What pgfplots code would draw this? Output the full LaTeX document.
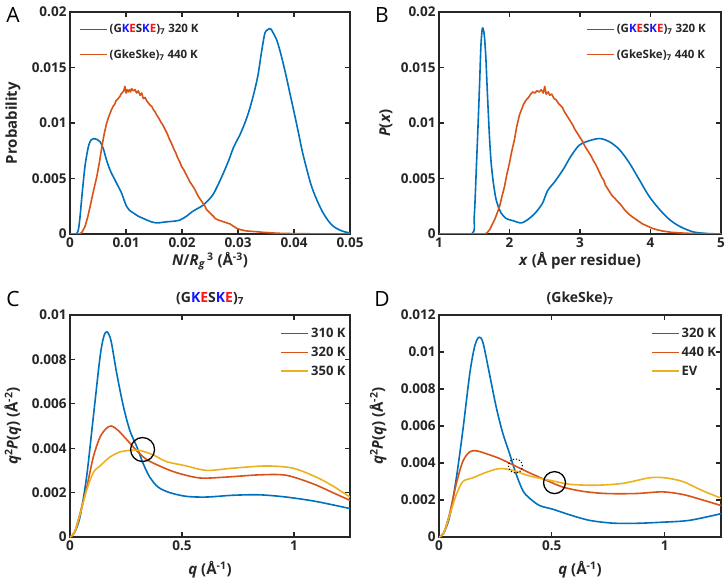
\documentclass[border=0pt]{standalone}
\usepackage{fontspec}
\setmainfont{Open Sans}
\usepackage{pgfplots}
\pgfplotsset{compat=1.18}
\definecolor{axgray}{RGB}{38,38,38}
\definecolor{mblue}{rgb}{0,0.447,0.741}
\definecolor{morange}{rgb}{0.85,0.325,0.098}
\definecolor{myellow}{rgb}{0.929,0.694,0.125}
\definecolor{kblue}{RGB}{20,20,255}
\definecolor{ered}{RGB}{255,20,20}
\newcommand{\GK}{(G\textcolor{kblue}{K}\textcolor{ered}{E}S\textcolor{kblue}{K}\textcolor{ered}{E})\textsubscript{7}}
\newcommand{\Gk}{(GkeSke)\textsubscript{7}}
\pgfplotsset{
  mystyle/.style={
    scale only axis,
    axis line style={color=axgray, line width=1.3pt},
    tick style={color=axgray, line width=1.1pt},
    major tick length=5pt,
    tick align=inside,
    ticklabel style={font=\fontsize{13.5}{15}\selectfont\bfseries, color=axgray},
    label style={font=\fontsize{15}{17}\selectfont\bfseries, color=axgray},
    title style={font=\fontsize{14}{16}\selectfont\bfseries, color=axgray},
    scaled ticks=false,
    /pgf/number format/assume math mode=true,
    /pgf/number format/fixed,
    /pgf/number format/precision=3,
    every axis plot/.append style={line width=1.6pt, line join=round},
    legend cell align=left,
    legend style={draw=none, fill=none, font=\fontsize{11.5}{13}\selectfont\bfseries, text=axgray},
    legend image code/.code={\draw[#1, line width=1.8pt] (0pt,0pt) -- (27pt,0pt);},
  }
}
\begin{document}
\begin{tikzpicture}
% ---------------- A ----------------
\begin{axis}[mystyle, at={(70pt,347pt)}, anchor=south west, width=280pt, height=222pt,
  xmin=0, xmax=0.05, ymin=0, ymax=0.02,
  xtick={0,0.01,0.02,0.03,0.04,0.05}, ytick={0,0.005,0.01,0.015,0.02},
  xlabel={\textit{N}/\textit{R}\textsubscript{\textit{g}}\textsuperscript{\,3} (Å\textsuperscript{-3})},
  ylabel={Probability},
  xlabel style={at={(axis description cs:0.5,-0.122)}, anchor=center},
  ylabel style={at={(axis description cs:-0.204,0.5)}, anchor=center},
  legend style={at={(axis description cs:0.02,0.962)}, anchor=north west, row sep=11pt},
]
\addplot[mblue, smooth] coordinates {
(0,0) (0.0011,0) (0.0015,0.0004) (0.0018,0.0016) (0.0022,0.0038) (0.0027,0.0062) (0.0033,0.0079) (0.0038,0.0085) (0.0043,0.0086) (0.0049,0.0085) (0.0054,0.0083) (0.0060,0.0076) (0.0065,0.0067) (0.0072,0.0057) (0.0080,0.0049) (0.0087,0.0042) (0.0092,0.0037) (0.0097,0.0030) (0.0101,0.0025) (0.0107,0.0021) (0.0113,0.0019) (0.0122,0.0016) (0.0131,0.0014) (0.0145,0.0011) (0.0155,0.0010) (0.0165,0.00105) (0.0173,0.0011) (0.0185,0.00115) (0.0196,0.00125) (0.0208,0.0016) (0.0218,0.0020) (0.0228,0.0023) (0.0238,0.0026) (0.0248,0.0031) (0.0256,0.0036) (0.0265,0.0045) (0.0274,0.0055) (0.0284,0.0067) (0.0292,0.0078) (0.0304,0.0090) (0.0313,0.0101) (0.0321,0.0113) (0.0329,0.0128) (0.0336,0.0144) (0.0342,0.0164) (0.0348,0.0181) (0.0353,0.0184) (0.0358,0.0185) (0.0363,0.0181) (0.0369,0.0175) (0.0375,0.0165) (0.0381,0.0153) (0.0387,0.0140) (0.0393,0.0126) (0.0400,0.0110) (0.0408,0.0091) (0.0415,0.0074) (0.0423,0.0058) (0.0430,0.0045) (0.0438,0.0034) (0.0445,0.0026) (0.0452,0.0019) (0.0461,0.0012) (0.0470,0.0007) (0.0480,0.0004) (0.0490,0.0002) (0.0500,0.0001)};
\addlegendentry{\GK\ 320 K}
\addplot[morange] coordinates {
(0,0) (0.0018,0) (0.0022,0.0002) (0.0027,0.0007) (0.0032,0.0016) (0.0036,0.0025) (0.0042,0.0039) (0.0048,0.0052) (0.0053,0.0066) (0.0057,0.0079) (0.0061,0.0090) (0.0065,0.0099) (0.0068,0.0104) (0.0071,0.0108) (0.0074,0.0112) (0.0077,0.0115) (0.0080,0.0117) (0.0082,0.0120) (0.0084,0.0121) (0.0086,0.0122) (0.0089,0.0124) (0.0091,0.0126) (0.0093,0.0127) (0.0096,0.0129) (0.0098,0.0133) (0.0100,0.0127) (0.0102,0.0130) (0.0104,0.0128) (0.0106,0.0130) (0.0108,0.0128) (0.0110,0.0131) (0.0113,0.0129) (0.0116,0.0130) (0.0119,0.0127) (0.0122,0.0129) (0.0125,0.0125) (0.0128,0.0127) (0.0131,0.0122) (0.0134,0.0123) (0.0137,0.0120) (0.0140,0.0118) (0.0143,0.0116) (0.0146,0.0115) (0.0149,0.0112) (0.0152,0.0110) (0.0155,0.0107) (0.0159,0.0104) (0.0162,0.0101) (0.0166,0.0098) (0.0170,0.0094) (0.0174,0.0090) (0.0177,0.0086) (0.0181,0.0082) (0.0185,0.0077) (0.0189,0.0073) (0.0192,0.0069) (0.0196,0.0065) (0.0199,0.0061) (0.0203,0.0058) (0.0207,0.0054) (0.0211,0.0050) (0.0214,0.0047) (0.0218,0.0044) (0.0222,0.0041) (0.0226,0.0037) (0.0229,0.0034) (0.0233,0.0031) (0.0237,0.0028) (0.0241,0.0025) (0.0244,0.0022) (0.0248,0.0020) (0.0252,0.0018) (0.0256,0.0016) (0.0259,0.0014) (0.0263,0.0013) (0.0268,0.0012) (0.0274,0.0011) (0.0280,0.0010) (0.0286,0.0009) (0.0292,0.0007) (0.0298,0.0005) (0.0304,0.0004) (0.0312,0.0003) (0.0321,0.00025) (0.0335,0.0002) (0.0345,0.00015) (0.0360,0.0001) (0.0380,0.00005) (0.0420,0.00002) (0.0500,0)};
\addlegendentry{\Gk\ 440 K}
\end{axis}
% ---------------- B ----------------
\begin{axis}[mystyle, at={(439pt,347pt)}, anchor=south west, width=282pt, height=222pt,
  xmin=1, xmax=5, ymin=0, ymax=0.02,
  xtick={1,2,3,4,5}, ytick={0,0.005,0.01,0.015,0.02},
  xlabel={\textit{x} (Å per residue)},
  ylabel={\textit{P}(\textit{x})},
  xlabel style={at={(axis description cs:0.5,-0.122)}, anchor=center},
  ylabel style={at={(axis description cs:-0.188,0.5)}, anchor=center},
  legend style={at={(axis description cs:0.51,0.962)}, anchor=north west, row sep=11pt},
]
\addplot[mblue, smooth] coordinates {
(1,0) (1.46,0) (1.50,0.0016) (1.53,0.0060) (1.555,0.0100) (1.576,0.0136) (1.595,0.0170) (1.614,0.0185) (1.630,0.0184) (1.647,0.0176) (1.665,0.0158) (1.68,0.0136) (1.70,0.0108) (1.718,0.0085) (1.74,0.0064) (1.765,0.0049) (1.79,0.0038) (1.81,0.0031) (1.85,0.0023) (1.88,0.0019) (1.95,0.0014) (2.05,0.0012) (2.17,0.0010) (2.28,0.0014) (2.38,0.0020) (2.47,0.0028) (2.54,0.0039) (2.64,0.0047) (2.76,0.0058) (2.87,0.0070) (2.99,0.0080) (3.13,0.0084) (3.28,0.0086) (3.42,0.0083) (3.56,0.0076) (3.70,0.0064) (3.84,0.0049) (3.98,0.0034) (4.13,0.0022) (4.27,0.0013) (4.41,0.0007) (4.60,0.0002) (4.79,0.00005) (5,0)};
\addlegendentry{\GK\ 320 K}
\addplot[morange] coordinates {
(1,0) (1.647,0) (1.68,0.0001) (1.72,0.0004) (1.75,0.0008) (1.79,0.0013) (1.82,0.0018) (1.86,0.0025) (1.89,0.0033) (1.93,0.0043) (1.96,0.0053) (2.00,0.0064) (2.03,0.0074) (2.07,0.0085) (2.10,0.0096) (2.14,0.0107) (2.17,0.0112) (2.20,0.0117) (2.24,0.0121) (2.27,0.0123) (2.30,0.0126) (2.33,0.0128) (2.36,0.0127) (2.39,0.0129) (2.42,0.0128) (2.45,0.0130) (2.48,0.0127) (2.50,0.0133) (2.52,0.0126) (2.55,0.0128) (2.57,0.0125) (2.60,0.0126) (2.63,0.0122) (2.66,0.0121) (2.69,0.0118) (2.72,0.0116) (2.75,0.0114) (2.78,0.0110) (2.81,0.0107) (2.84,0.0104) (2.87,0.0101) (2.90,0.0098) (2.92,0.0095) (2.95,0.0092) (2.98,0.0089) (3.01,0.0086) (3.04,0.0083) (3.07,0.0079) (3.10,0.0076) (3.13,0.0073) (3.16,0.0070) (3.19,0.0066) (3.22,0.0063) (3.25,0.0059) (3.28,0.0055) (3.31,0.0051) (3.34,0.0048) (3.36,0.0044) (3.39,0.0041) (3.42,0.0038) (3.45,0.0035) (3.48,0.0033) (3.51,0.0031) (3.57,0.0027) (3.63,0.0022) (3.69,0.0018) (3.75,0.0015) (3.82,0.0012) (3.89,0.0009) (3.96,0.0007) (4.03,0.0005) (4.10,0.00037) (4.17,0.00027) (4.30,0.00015) (4.41,0.0001) (4.65,0.00003) (5,0)};
\addlegendentry{\Gk\ 440 K}
\end{axis}
% ---------------- C ----------------
\begin{axis}[mystyle, at={(70pt,44pt)}, anchor=south west, width=280pt, height=222pt,
  xmin=0, xmax=1.25, ymin=0, ymax=0.01,
  xtick={0,0.5,1}, ytick={0,0.002,0.004,0.006,0.008,0.01},
  xlabel={\textit{q} (Å\textsuperscript{-1})},
  ylabel={\textit{q}\textsuperscript{2}\textit{P}(\textit{q}) (Å\textsuperscript{-2})},
  title={\GK},
  title style={at={(axis description cs:0.5,1.048)}, anchor=center},
  xlabel style={at={(axis description cs:0.5,-0.149)}, anchor=center},
  ylabel style={at={(axis description cs:-0.204,0.5)}, anchor=center},
  legend style={at={(axis description cs:0.74,0.96)}, anchor=north west, row sep=4pt, font=\fontsize{13}{14}\selectfont\bfseries},
]
\addplot[mblue, smooth] coordinates {
(0,0) (0.02,0.0002) (0.0445,0.0009) (0.074,0.0027) (0.104,0.0054) (0.134,0.0081) (0.150,0.0090) (0.163,0.00925) (0.175,0.0091) (0.186,0.0087) (0.208,0.0074) (0.238,0.0059) (0.267,0.0048) (0.297,0.0041) (0.327,0.0033) (0.356,0.0027) (0.393,0.00225) (0.445,0.0020) (0.52,0.00183) (0.61,0.0018) (0.727,0.00188) (0.846,0.0019) (0.965,0.0018) (1.099,0.0016) (1.25,0.00128)};
\addlegendentry{310 K}
\addplot[morange, smooth] coordinates {
(0,0) (0.02,0.0002) (0.0445,0.00105) (0.074,0.0022) (0.104,0.0036) (0.134,0.0045) (0.163,0.0049) (0.186,0.0050) (0.215,0.0048) (0.252,0.0044) (0.297,0.0039) (0.341,0.0035) (0.40,0.0032) (0.475,0.0029) (0.579,0.00266) (0.698,0.0027) (0.846,0.0028) (0.965,0.00278) (1.084,0.0024) (1.173,0.0020) (1.25,0.00165)};
\addlegendentry{320 K}
\addplot[myellow, smooth] coordinates {
(0,0) (0.02,0.0002) (0.0445,0.0010) (0.074,0.0021) (0.104,0.0029) (0.134,0.0032) (0.178,0.0036) (0.223,0.00383) (0.267,0.0039) (0.312,0.0039) (0.371,0.0037) (0.43,0.0034) (0.52,0.0032) (0.61,0.0030) (0.727,0.0031) (0.876,0.0032) (0.995,0.0031) (1.099,0.0027) (1.173,0.0023) (1.25,0.0018)};
\addlegendentry{350 K}
\draw[black, line width=1.3pt] (axis cs:0.324,0.00394) circle (12pt);
\end{axis}
% ---------------- D ----------------
\begin{axis}[mystyle, at={(439pt,44pt)}, anchor=south west, width=282pt, height=222pt,
  xmin=0, xmax=1.25, ymin=0, ymax=0.012,
  xtick={0,0.5,1}, ytick={0,0.002,0.004,0.006,0.008,0.01,0.012},
  xlabel={\textit{q} (Å\textsuperscript{-1})},
  ylabel={\textit{q}\textsuperscript{2}\textit{P}(\textit{q}) (Å\textsuperscript{-2})},
  title={\Gk},
  title style={at={(axis description cs:0.5,1.048)}, anchor=center},
  xlabel style={at={(axis description cs:0.5,-0.149)}, anchor=center},
  ylabel style={at={(axis description cs:-0.216,0.5)}, anchor=center},
  legend style={at={(axis description cs:0.74,0.96)}, anchor=north west, row sep=4pt, font=\fontsize{13}{14}\selectfont\bfseries},
]
\addplot[mblue, smooth] coordinates {
(0,0) (0.02,0.0002) (0.047,0.0011) (0.077,0.0032) (0.106,0.0058) (0.136,0.0088) (0.158,0.0103) (0.177,0.0108) (0.195,0.0105) (0.224,0.0088) (0.254,0.0070) (0.283,0.0056) (0.313,0.0045) (0.342,0.0034) (0.372,0.0025) (0.401,0.0021) (0.446,0.0017) (0.505,0.0015) (0.579,0.0012) (0.667,0.0009) (0.77,0.00075) (0.874,0.00074) (0.99,0.0008) (1.11,0.0009) (1.25,0.00126)};
\addlegendentry{320 K}
\addplot[morange, smooth] coordinates {
(0,0) (0.02,0.0002) (0.047,0.00126) (0.077,0.0029) (0.106,0.0041) (0.136,0.0046) (0.165,0.00466) (0.21,0.0045) (0.269,0.00424) (0.328,0.0039) (0.401,0.00347) (0.475,0.00307) (0.549,0.0027) (0.637,0.00247) (0.741,0.00235) (0.874,0.00235) (0.99,0.00244) (1.08,0.0023) (1.169,0.0020) (1.25,0.0017)};
\addlegendentry{440 K}
\addplot[myellow, smooth] coordinates {
(0,0) (0.02,0.0002) (0.047,0.00117) (0.077,0.0023) (0.106,0.0030) (0.15,0.0032) (0.21,0.0035) (0.269,0.0037) (0.328,0.0036) (0.401,0.0033) (0.49,0.00307) (0.579,0.00285) (0.697,0.0028) (0.815,0.0029) (0.933,0.0032) (1.0,0.0032) (1.08,0.0030) (1.169,0.0025) (1.25,0.0021)};
\addlegendentry{EV}
\draw[black, line width=1.1pt, dotted] (axis cs:0.339,0.00384) circle (7pt);
\draw[black, line width=1.3pt] (axis cs:0.512,0.00294) circle (11pt);
\end{axis}
% panel letters
\node[font=\fontsize{21}{24}\selectfont, text=black] at (13pt,566pt) {A};
\node[font=\fontsize{21}{24}\selectfont, text=black] at (382pt,566pt) {B};
\node[font=\fontsize{21}{24}\selectfont, text=black] at (13pt,282pt) {C};
\node[font=\fontsize{21}{24}\selectfont, text=black] at (382pt,282pt) {D};
\pgfresetboundingbox
\path (0pt,0pt) rectangle (727pt,581pt);
\end{tikzpicture}
\end{document}
